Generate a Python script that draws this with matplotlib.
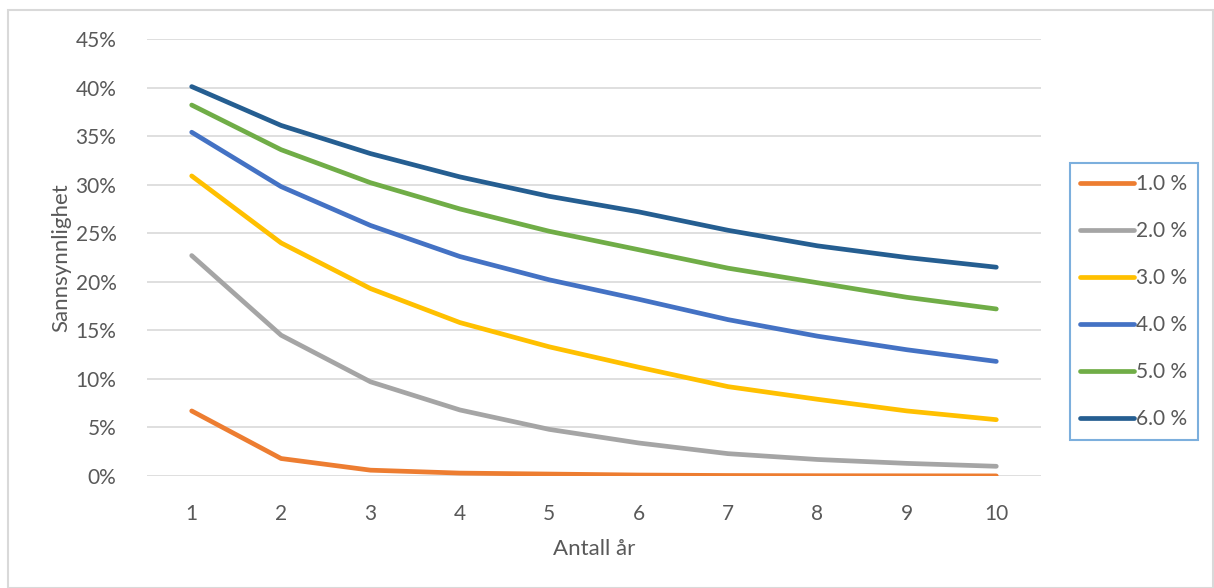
import numpy as np
import matplotlib.pyplot as plt
from matplotlib.patches import Rectangle
from matplotlib.ticker import PercentFormatter

# Sannsynlighet per antall år, en serie per rentenivå (verdier i prosent)
years = [1, 2, 3, 4, 5, 6, 7, 8, 9, 10]
labels = ['1.0 %', '2.0 %', '3.0 %', '4.0 %', '5.0 %', '6.0 %']
p_1 = [6.7, 1.8, 0.6, 0.3, 0.2, 0.1, 0.05, 0.03, 0.02, 0.01]
p_2 = [22.7, 14.5, 9.7, 6.8, 4.8, 3.4, 2.3, 1.7, 1.3, 1.0]
p_3 = [30.9, 24.0, 19.3, 15.8, 13.3, 11.2, 9.2, 7.9, 6.7, 5.8]
p_4 = [35.4, 29.8, 25.8, 22.6, 20.2, 18.2, 16.1, 14.4, 13.0, 11.8]
p_5 = [38.2, 33.6, 30.2, 27.5, 25.2, 23.3, 21.4, 19.9, 18.4, 17.2]
p_6 = [40.1, 36.1, 33.2, 30.8, 28.8, 27.2, 25.3, 23.7, 22.5, 21.5]
series = [p_1, p_2, p_3, p_4, p_5, p_6]
colors = ['#ED7D31', '#A5A5A5', '#FFC000', '#4472C4', '#70AD47', '#255E91']

plt.rcParams['font.family'] = ['Lato', 'DejaVu Sans']
txt = '#595959'

fig = plt.figure(figsize=(12.14, 5.88), dpi=100)
ax = fig.add_axes([147/1214, 1-476/588, (1041-147)/1214, (476-39)/588])

for vals, lab, c in zip(series, labels, colors):
    ax.plot(years, np.array(vals)/100, color=c, lw=3.4, label=lab,
            solid_capstyle='round', solid_joinstyle='round')

ax.set_xlim(0.5, 10.5)
ax.set_ylim(0, 0.45)
ax.set_xticks(years)
ax.set_yticks(np.arange(0, 0.46, 0.05))
ax.yaxis.set_major_formatter(PercentFormatter(1.0, decimals=0))
ax.grid(axis='y', color='#d9d9d9', lw=1.2)
ax.set_axisbelow(True)
for s in ax.spines.values():
    s.set_visible(False)
ax.tick_params(length=0, labelsize=15, colors=txt)
ax.tick_params(axis='y', pad=22)
ax.tick_params(axis='x', pad=20)

ax.set_ylabel('Sannsynnlighet', fontsize=16, color=txt, labelpad=3)
ax.set_xlabel('Antall år', fontsize=16, color=txt, labelpad=11)

leg = ax.legend(loc='center left', bbox_to_anchor=(1070/1214, 1-301.5/588),
                bbox_transform=fig.transFigure, fontsize=15, frameon=True,
                fancybox=False, handlelength=2.55, handletextpad=0.12,
                labelspacing=1.3, borderpad=0.5, borderaxespad=0)
leg.get_frame().set_edgecolor('#5B9BD5')
leg.get_frame().set_linewidth(1.5)
for t in leg.get_texts():
    t.set_color(txt)

# ytre ramme rundt diagrammet
fig.patches.append(Rectangle((8/1214, 0), 1205/1214, 1-10/588, transform=fig.transFigure,
                             fill=False, edgecolor='#d9d9d9', lw=1.5))

fig.savefig('out.png', dpi=100)
